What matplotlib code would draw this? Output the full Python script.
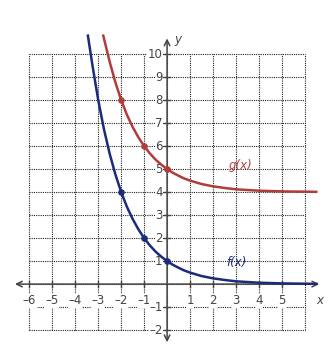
import matplotlib.pyplot as plt

# values
x_f = [-3.45, -3.25, -3.0, -2.75, -2.5, -2.25, -2.0, -1.75, -1.5, -1.25, -1.0, -0.75,
       -0.5, -0.25, 0.0, 0.25, 0.5, 0.75, 1.0, 1.5, 2.0, 2.5, 3.0, 3.5, 4.0, 5.0, 6.5]
y_f = [10.8, 9.5, 8.0, 6.73, 5.66, 4.76, 4.0, 3.36, 2.83, 2.38, 2.0, 1.68,
       1.41, 1.19, 1.0, 0.84, 0.71, 0.59, 0.5, 0.35, 0.25, 0.18, 0.12, 0.09, 0.06, 0.03, 0.01]
x_g = [-2.78, -2.5, -2.25, -2.0, -1.75, -1.5, -1.25, -1.0, -0.75, -0.5, -0.25, 0.0,
       0.25, 0.5, 0.75, 1.0, 1.5, 2.0, 2.5, 3.0, 3.5, 4.0, 5.0, 6.5]
y_g = [10.8, 9.66, 8.76, 8.0, 7.36, 6.83, 6.38, 6.0, 5.68, 5.41, 5.19, 5.0,
       4.84, 4.71, 4.59, 4.5, 4.35, 4.25, 4.18, 4.12, 4.09, 4.06, 4.03, 4.01]
pts_fx = [-2, -1, 0]
pts_fy = [4, 2, 1]
pts_gx = [-2, -1, 0]
pts_gy = [8, 6, 5]
xticks = [-6, -5, -4, -3, -2, -1, 1, 2, 3, 4, 5]
yticks = [-2, -1, 1, 2, 3, 4, 5, 6, 7, 8, 9, 10]

blue = "#1c2a7a"
red = "#b03c3c"
grey = "#444444"

fig = plt.figure(figsize=(3.36, 3.6), dpi=100)
ax = fig.add_axes([0, 0, 1, 1])
ax.set_xlim(-7.28, 7.36)
ax.set_ylim(-3.3, 12.35)
ax.axis("off")

# grid dotted
for gx in range(-6, 7):
    ax.plot([gx, gx], [-2, 10], color="#222222", lw=0.8, ls=(0, (1, 1)), zorder=1)
for gy in range(-2, 11):
    ax.plot([-6, 6], [gy, gy], color="#222222", lw=0.8, ls=(0, (1, 1)), zorder=1)

# axes with arrows
ax.annotate("", xy=(6.75, 0), xytext=(-6.75, 0),
            arrowprops=dict(arrowstyle="<->", color=grey, lw=1.1), zorder=2)
ax.annotate("", xy=(0, 10.8), xytext=(0, -2.65),
            arrowprops=dict(arrowstyle="<->", color=grey, lw=1.1), zorder=2)

# tick marks
for t in xticks:
    ax.plot([t, t], [-0.13, 0.13], color=grey, lw=1, zorder=2)
for t in yticks:
    ax.plot([-0.13, 0.13], [t, t], color=grey, lw=1, zorder=2)

# tick labels
for t in xticks:
    lab = f"\u2013{-t}" if t < 0 else str(t)
    ax.text(t, -0.72, lab, ha="center", va="center", fontsize=8.5, color=grey,
            bbox=dict(facecolor="white", edgecolor="none", pad=0.3), zorder=3)
for t in yticks:
    lab = f"\u2013{-t}" if t < 0 else str(t)
    ax.text(-0.2, t, lab, ha="right", va="center", fontsize=8.5, color=grey,
            bbox=dict(facecolor="white", edgecolor="none", pad=0.3), zorder=3)

ax.text(6.65, -0.72, "x", ha="center", va="center", fontsize=8.5, style="italic", color=grey)
ax.text(0.45, 10.65, "y", ha="center", va="center", fontsize=8.5, style="italic", color=grey)

# curves
ax.plot(x_f, y_f, color=blue, lw=1.8, zorder=4)
ax.plot(x_g, y_g, color=red, lw=1.8, zorder=4)
ax.scatter(pts_fx, pts_fy, color=blue, s=14, zorder=5)
ax.scatter(pts_gx, pts_gy, color=red, s=14, zorder=5)

ax.text(3.2, 5.15, "g(x)", fontsize=8.5, style="italic", color=red, ha="center", va="center")
ax.text(3.0, 0.95, "f(x)", fontsize=8.5, style="italic", color=blue, ha="center", va="center")

fig.savefig("out.png", dpi=100)
